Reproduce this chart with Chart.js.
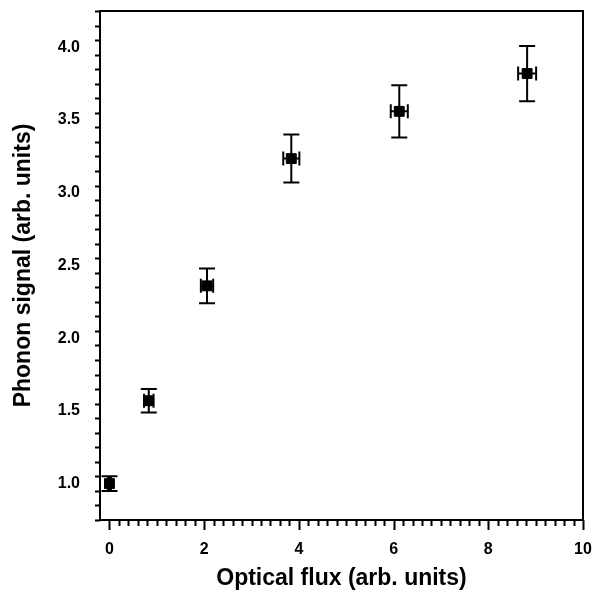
<!DOCTYPE html>
<html>
<head>
<meta charset="utf-8">
<script src="https://cdn.jsdelivr.net/npm/chart.js@4/dist/chart.umd.min.js"></script>
<style>
  html, body { margin: 0; padding: 0; background: #fff; }
  #wrap { width: 593px; height: 596px; }
</style>
</head>
<body>
<div id="wrap"><canvas id="chart1"></canvas></div>
<script>
// values
var fluxX = [0, 0.83, 2.06, 3.84, 6.12, 8.82];
var phononY = [1.00, 1.57, 2.36, 3.235, 3.56, 3.82];
var errY = [0.05, 0.08, 0.12, 0.165, 0.18, 0.19];
var errX = [0.03, 0.10, 0.13, 0.17, 0.18, 0.19];

var xTicks = [0, 2, 4, 6, 8, 10];
var yTicks = [1.0, 1.5, 2.0, 2.5, 3.0, 3.5, 4.0];
var xMinorStep = 0.2;
var yMinorStep = 0.1;

var font = "'Liberation Sans', Arial, sans-serif";

// error bars, minor ticks and frame
var extras = {
  id: 'extras',
  afterDatasetsDraw: function(chart) {
    var ctx = chart.ctx, xs = chart.scales.x, ys = chart.scales.y;
    ctx.save();
    ctx.strokeStyle = '#000';
    ctx.lineWidth = 2;
    for (var i = 0; i < fluxX.length; i++) {
      var px = xs.getPixelForValue(fluxX[i]);
      var py = ys.getPixelForValue(phononY[i]);
      var top = ys.getPixelForValue(phononY[i] + errY[i]);
      var bot = ys.getPixelForValue(phononY[i] - errY[i]);
      var lft = xs.getPixelForValue(fluxX[i] - errX[i]);
      var rgt = xs.getPixelForValue(fluxX[i] + errX[i]);
      ctx.beginPath();
      ctx.moveTo(px, top); ctx.lineTo(px, bot);
      ctx.moveTo(px - 8, top); ctx.lineTo(px + 8, top);
      ctx.moveTo(px - 8, bot); ctx.lineTo(px + 8, bot);
      ctx.moveTo(lft, py); ctx.lineTo(rgt, py);
      ctx.moveTo(lft, py - 7); ctx.lineTo(lft, py + 7);
      ctx.moveTo(rgt, py - 7); ctx.lineTo(rgt, py + 7);
      ctx.stroke();
    }
    ctx.restore();
  },
  afterDraw: function(chart) {
    var ctx = chart.ctx, a = chart.chartArea, xs = chart.scales.x, ys = chart.scales.y;
    ctx.save();
    ctx.strokeStyle = '#000';
    ctx.lineWidth = 2;
    ctx.strokeRect(a.left, a.top, a.right - a.left, a.bottom - a.top);
    ctx.beginPath();
    // y ticks
    var n = Math.round((ys.max - ys.min) / yMinorStep);
    for (var k = 0; k <= n; k++) {
      var v = Math.round((ys.min + k * yMinorStep) * 100) / 100;
      if (v < ys.min || v > ys.max) continue;
      var major = yTicks.indexOf(v) >= 0;
      var p = Math.round(ys.getPixelForValue(v)) + 0.5;
      ctx.moveTo(a.left, p); ctx.lineTo(a.left - (major ? 11 : 5), p);
    }
    // x ticks
    var m = Math.round((xs.max - xs.min) / xMinorStep);
    for (var j = 0; j <= m; j++) {
      var u = Math.round((xs.min + j * xMinorStep) * 100) / 100;
      if (u < 0 || u > xs.max) continue;
      var maj = xTicks.indexOf(u) >= 0;
      var q = Math.round(xs.getPixelForValue(u)) + 0.5;
      ctx.moveTo(q, a.bottom); ctx.lineTo(q, a.bottom + (maj ? 10 : 6));
    }
    ctx.stroke();
    ctx.restore();
  }
};

new Chart(document.getElementById('chart1'), {
  type: 'scatter',
  data: {
    datasets: [{
      data: fluxX.map(function(x, i) { return { x: x, y: phononY[i] }; }),
      pointStyle: 'rect',
      pointRadius: 7,
      pointHoverRadius: 7,
      backgroundColor: '#000',
      borderColor: '#000',
      borderWidth: 1
    }]
  },
  options: {
    responsive: true,
    maintainAspectRatio: false,
    animation: false,
    layout: { padding: { top: 11, right: 10, left: 0, bottom: 0 } },
    plugins: { legend: { display: false }, tooltip: { enabled: false } },
    scales: {
      x: {
        type: 'linear',
        min: -0.2,
        max: 10,
        afterBuildTicks: function(s) { s.ticks = xTicks.map(function(v) { return { value: v }; }); },
        afterFit: function(s) { s.height = 76; s.paddingLeft = 0; s.paddingRight = 0; },
        grid: { display: false },
        border: { display: false },
        ticks: {
          padding: 12,
          color: '#000',
          maxRotation: 0,
          font: { family: font, size: 16, weight: 'bold' },
          callback: function(v) { return String(v); }
        },
        title: {
          display: true,
          text: 'Optical flux (arb. units)',
          color: '#000',
          padding: { top: 4, bottom: 4 },
          font: { family: font, size: 23, weight: 'bold' }
        }
      },
      y: {
        type: 'linear',
        min: 0.75,
        max: 4.25,
        afterBuildTicks: function(s) { s.ticks = yTicks.map(function(v) { return { value: v }; }); },
        afterFit: function(s) { s.width = 100; s.paddingTop = 0; s.paddingBottom = 0; },
        grid: { display: false },
        border: { display: false },
        ticks: {
          padding: 12,
          color: '#000',
          font: { family: font, size: 16, weight: 'bold' },
          callback: function(v) { return v.toFixed(1); }
        },
        title: {
          display: true,
          text: 'Phonon signal (arb. units)',
          color: '#000',
          padding: { top: 10, bottom: 4 },
          font: { family: font, size: 23, weight: 'bold' }
        }
      }
    }
  },
  plugins: [extras]
});
</script>
</body>
</html>
